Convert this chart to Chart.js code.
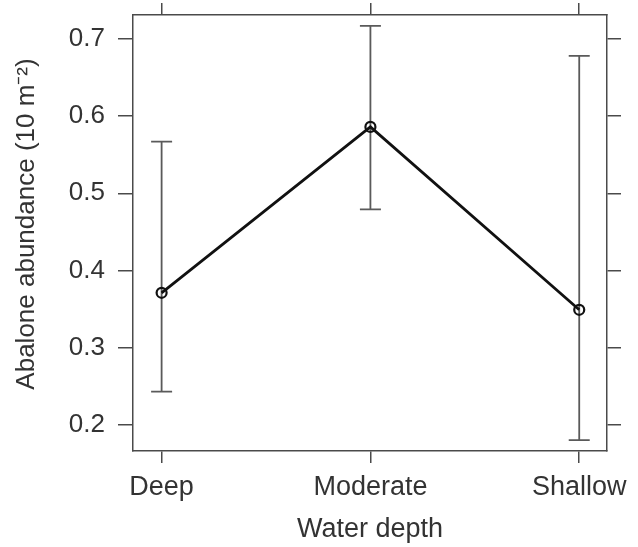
<!DOCTYPE html>
<html>
<head>
<meta charset="utf-8">
<script src="https://cdn.jsdelivr.net/npm/chart.js@4"></script>
<style>
  body { margin: 0; background: #fff; }
  #wrap { width: 638px; height: 547px; }
</style>
</head>
<body>
<div id="wrap"><canvas id="myChart" width="638" height="547"></canvas></div>
<script>
const categories = ["Deep", "Moderate", "Shallow"];
const means = [0.371, 0.586, 0.349];
const upper = [0.567, 0.717, 0.678];
const lower = [0.243, 0.479, 0.180];
const yTicks = [0.2, 0.3, 0.4, 0.5, 0.6, 0.7];
const yTitle = "Abalone abundance (10 m\u207B\u00B2)";

const textColor = "#333";
const boxColor = "#4a4a4a";
const family = "'Liberation Sans', Arial, sans-serif";
const font = { family: family, size: 26 };
const xFont = { family: family, size: 27 };

// vertical error bars with caps, drawn under the line
const errorBars = {
  id: "errorBars",
  beforeDatasetsDraw(chart) {
    const { ctx, scales } = chart;
    const xs = scales.x, ys = scales.y;
    ctx.save();
    ctx.strokeStyle = "#5a5a5a";
    ctx.lineWidth = 1.8;
    categories.forEach((c, i) => {
      const x = xs.getPixelForValue(i);
      const yt = ys.getPixelForValue(upper[i]);
      const yb = ys.getPixelForValue(lower[i]);
      ctx.beginPath();
      ctx.moveTo(x, yt); ctx.lineTo(x, yb);
      ctx.moveTo(x - 10.5, yt); ctx.lineTo(x + 10.5, yt);
      ctx.moveTo(x - 10.5, yb); ctx.lineTo(x + 10.5, yb);
      ctx.stroke();
    });
    ctx.restore();
  },
};

// y axis title, placed like the original (a bit above the plot's middle)
const yAxisTitle = {
  id: "yAxisTitle",
  afterDraw(chart) {
    const { ctx } = chart;
    ctx.save();
    ctx.translate(27, 224);
    ctx.rotate(-Math.PI / 2);
    ctx.fillStyle = textColor;
    ctx.font = font.size + "px " + font.family;
    ctx.textAlign = "center";
    ctx.textBaseline = "middle";
    ctx.fillText(yTitle, 0, 0);
    ctx.restore();
  },
};

const xTickSet = (scale) => { scale.ticks = categories.map((c, i) => ({ value: i })); };
const yTickSet = (scale) => { scale.ticks = yTicks.map((v) => ({ value: v })); };

// fixed axis box sizes so the plot box lands where the original's does
const fixSize = (w, h) => (s) => {
  if (w !== null) s.width = w;
  if (h !== null) s.height = h;
  s.paddingTop = 0; s.paddingBottom = 0;
  s.paddingLeft = 0; s.paddingRight = 0;
};

const gridOpts = (len) => ({
  display: true,
  drawOnChartArea: false,
  drawTicks: true,
  tickLength: len,
  color: boxColor,
  lineWidth: 1.5,
});
const borderOpts = { display: true, color: boxColor, width: 1.5 };

const ctx = document.getElementById("myChart");
new Chart(ctx, {
  type: "scatter",
  data: {
    datasets: [
      {
        data: means.map((m, i) => ({ x: i, y: m })),
        showLine: true,
        borderColor: "#111",
        borderWidth: 2.8,
        pointRadius: 5,
        pointBorderWidth: 2.2,
        pointBorderColor: "#111",
        pointBackgroundColor: "rgba(255,255,255,0)",
        pointHoverRadius: 5,
      },
    ],
  },
  options: {
    responsive: false,
    animation: false,
    layout: { padding: 0 },
    plugins: { legend: { display: false }, tooltip: { enabled: false } },
    scales: {
      x: {
        type: "linear",
        position: "bottom",
        min: -0.137,
        max: 2.133,
        afterBuildTicks: xTickSet,
        afterFit: fixSize(null, 96),
        grid: gridOpts(12),
        border: borderOpts,
        ticks: {
          color: textColor,
          font: xFont,
          padding: 8,
          maxRotation: 0,
          callback: (v) => categories[v],
        },
        title: {
          display: true,
          text: "Water depth",
          color: textColor,
          font: xFont,
          padding: { top: 0, bottom: 1 },
        },
      },
      xTop: {
        type: "linear",
        position: "top",
        min: -0.137,
        max: 2.133,
        afterBuildTicks: xTickSet,
        afterFit: fixSize(null, 15),
        grid: gridOpts(12),
        border: borderOpts,
        ticks: { display: false },
      },
      y: {
        type: "linear",
        position: "left",
        min: 0.166,
        max: 0.731,
        afterBuildTicks: yTickSet,
        afterFit: fixSize(133, null),
        grid: gridOpts(15),
        border: borderOpts,
        ticks: {
          color: textColor,
          font: font,
          padding: 13,
          callback: (v) => v.toFixed(1),
        },
      },
      yRight: {
        type: "linear",
        position: "right",
        min: 0.166,
        max: 0.731,
        afterBuildTicks: yTickSet,
        afterFit: fixSize(31, null),
        grid: gridOpts(14),
        border: borderOpts,
        ticks: { display: false },
      },
    },
  },
  plugins: [errorBars, yAxisTitle],
});
</script>
</body>
</html>
